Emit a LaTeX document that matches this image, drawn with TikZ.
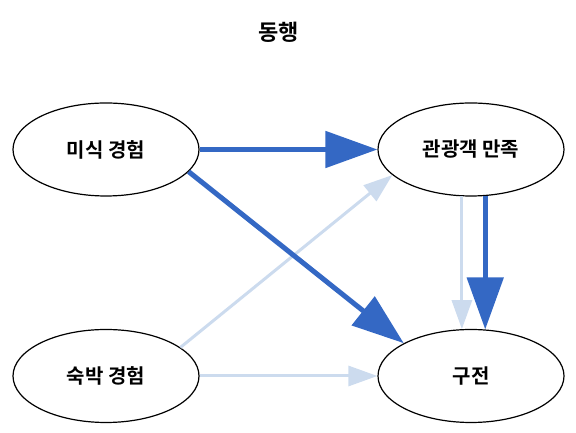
\documentclass[tikz,border=0pt]{standalone}
\usepackage{fontspec}
\setmainfont{Noto Sans CJK KR}[BoldFont={* Bold}]
\usetikzlibrary{shapes.geometric,arrows.meta}
\definecolor{strong}{HTML}{3468C4}
\definecolor{weak}{HTML}{CCDBEE}
\tikzset{
  var/.style={draw=black, line width=1.2pt, ellipse, minimum width=186pt, minimum height=93pt, inner sep=0pt, font=\fontsize{20}{24}\selectfont\bfseries},
  strongedge/.style={draw=strong, line width=5pt, -{Triangle[length=52pt,width=36pt]}},
  weakedge/.style={draw=weak, line width=3pt, -{Triangle[length=29pt,width=20pt]}},
}
\begin{document}
\begin{tikzpicture}[x=1pt,y=1pt]
\useasboundingbox (0,0) rectangle (576,433);
\node[font=\fontsize{22}{26}\selectfont\bfseries] (title) at (278.5,400.5) {동행};
\node[var] (mi) at (106,283.5) {미식 경험};
\node[var] (gk) at (471,283.5) {관광객 만족};
\node[var] (sb) at (106,57) {숙박 경험};
\node[var] (gj) at (471,57) {구전};
\draw[weakedge] (sb.21.3) -- (gk.-162.3);
\draw[weakedge] (sb.east) -- (gj.west);
\draw[weakedge] (gk.-101) -- (gj.101);
\draw[strongedge] (mi.east) -- (gk.west);
\draw[strongedge] (mi.-15.9) -- (gj.154.4);
\draw[strongedge] (gk.-73) -- (gj.73);
\end{tikzpicture}
\end{document}
